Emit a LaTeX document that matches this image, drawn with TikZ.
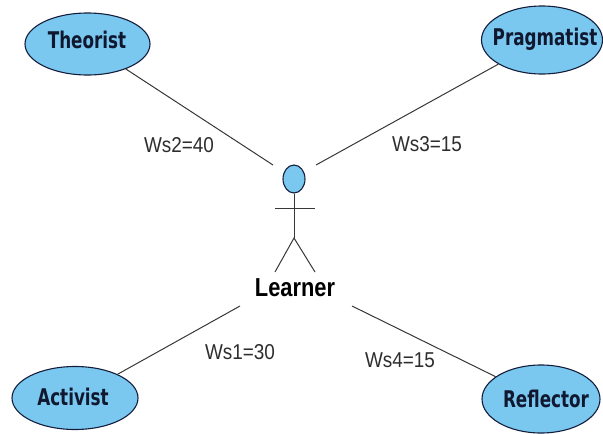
\documentclass[tikz,border=0pt]{standalone}
\usepackage{fontspec}
\setmainfont{Liberation Sans}
\newfontfamily\ucfont[FakeStretch=0.73]{DejaVu Sans}
\newfontfamily\actfont[FakeStretch=0.84]{Liberation Sans}
\newfontfamily\wsfont[FakeStretch=0.88]{Liberation Sans}
\usetikzlibrary{shapes.geometric}
\definecolor{ufill}{RGB}{122,200,240}
\definecolor{uline}{RGB}{20,30,60}
\definecolor{lline}{RGB}{55,55,55}
\definecolor{wtext}{RGB}{45,45,45}
\begin{document}
\begin{tikzpicture}[x=1pt,y=-1pt,
  uc/.style={ellipse,draw=uline,line width=1.1pt,fill=ufill,inner sep=0pt},
  uclab/.style={inner sep=0pt,text=uline!80!black,font=\ucfont\fontsize{23}{25}\selectfont\bfseries},
  assoc/.style={draw=lline,line width=1pt},
  wlab/.style={inner sep=0pt,text=wtext,font=\wsfont\fontsize{21.5}{23}\selectfont}]
\useasboundingbox (0,0) rectangle (603,434);
\node[uc,minimum width=125pt,minimum height=62pt] (theo) at (87.5,44) {};
\node[uc,minimum width=121pt,minimum height=68pt] (prag) at (542,40) {};
\node[uc,minimum width=126pt,minimum height=63pt] (act) at (75,398) {};
\node[uc,minimum width=118pt,minimum height=68pt] (refl) at (541,399) {};
\node[uclab] (theot) at (87,40) {Theorist};
\node[uclab] (pragt) at (545,39) {Pragmatist};
\node[uclab] (actt) at (73,397) {Activist};
\node[uclab] (reflt) at (546,399) {Reflector};
% actor
\node[ellipse,draw=uline,line width=1.1pt,fill=ufill,minimum width=22pt,minimum height=28pt,inner sep=0pt] (head) at (294,179) {};
\coordinate (armL) at (275,208);
\coordinate (armR) at (315,208);
\coordinate (hip) at (294,238);
\coordinate (legL) at (275,272);
\coordinate (legR) at (315,272);
\draw[assoc] (head.south) -- (hip);
\draw[assoc] (armL) -- (armR);
\draw[assoc] (legL) -- (hip) -- (legR);
\node[inner sep=0pt,font=\actfont\fontsize{26}{28}\selectfont\bfseries] (learner) at (295,288) {Learner};
\coordinate (lt) at (273,165);
\coordinate (rt) at (316,165);
\coordinate (lb) at (240,306);
\coordinate (rb) at (352,306);
\draw[assoc] (theo) -- (lt);
\draw[assoc] (prag) -- (rt);
\draw[assoc] (act) -- (lb);
\draw[assoc] (refl) -- (rb);
\node[wlab] (w2) at (179,145) {Ws2=40};
\node[wlab] (w3) at (427,144) {Ws3=15};
\node[wlab] (w1) at (240,352) {Ws1=30};
\node[wlab] (w4) at (400,360) {Ws4=15};
\end{tikzpicture}
\end{document}
